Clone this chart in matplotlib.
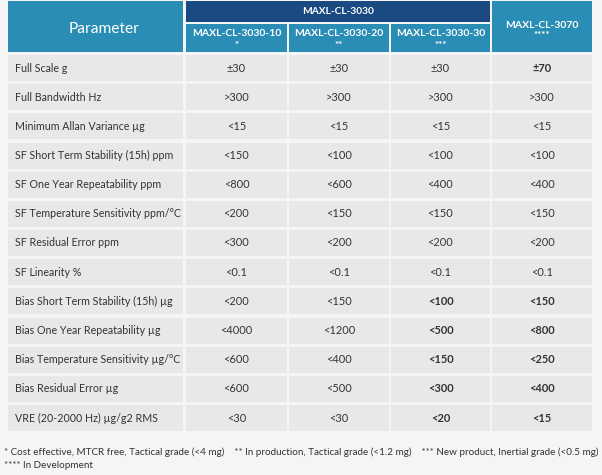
import matplotlib.pyplot as plt
from matplotlib.patches import Rectangle

plt.rcParams['font.family'] = ['Lato', 'DejaVu Sans']

parameters = [
    "Full Scale g",
    "Full Bandwidth Hz",
    "Minimum Allan Variance \u00b5g",
    "SF Short Term Stability (15h) ppm",
    "SF One Year Repeatability ppm",
    "SF Temperature Sensitivity ppm/\u00b0C",
    "SF Residual Error ppm",
    "SF Linearity %",
    "Bias Short Term Stability (15h) \u00b5g",
    "Bias One Year Repeatability \u00b5g",
    "Bias Temperature Sensitivity \u00b5g/\u00b0C",
    "Bias Residual Error \u00b5g",
    "VRE (20-2000 Hz) \u00b5g/g2 RMS",
]
models = ["MAXL-CL-3030-10", "MAXL-CL-3030-20", "MAXL-CL-3030-30", "MAXL-CL-3070"]
stars = ["*", "**", "***", "****"]
group_name = "MAXL-CL-3030"

col_3030_10 = ["\u00b130", ">300", "<15", "<150", "<800", "<200", "<300", "<0.1",
               "<200", "<4000", "<600", "<600", "<30"]
col_3030_20 = ["\u00b130", ">300", "<15", "<100", "<600", "<150", "<200", "<0.1",
               "<150", "<1200", "<400", "<500", "<30"]
col_3030_30 = ["\u00b130", ">300", "<15", "<100", "<400", "<150", "<200", "<0.1",
               "<100", "<500", "<150", "<300", "<20"]
col_3070 = ["\u00b170", ">300", "<15", "<100", "<400", "<150", "<200", "<0.1",
            "<150", "<800", "<250", "<400", "<15"]
columns = [col_3030_10, col_3030_20, col_3030_30, col_3070]

# (row, col) cells printed in bold
bold_cells = {(0, 3)} | {(r, c) for r in range(8, 13) for c in (2, 3)}

footnote1 = ("* Cost effective, MTCR free, Tactical grade (<4 mg)    "
             "** In production, Tactical grade (<1.2 mg)    "
             "*** New product, Inertial grade (<0.5 mg)")
footnote2 = "**** In Development"

teal = '#2a8db5'
navy = '#1b4a82'
cell_bg = '#e8e8e8'
text_c = '#333333'

W, H = 602, 475
fig = plt.figure(figsize=(W / 100, H / 100), dpi=100)
fig.patch.set_facecolor('#f5f5f5')
ax = fig.add_axes([0, 0, 1, 1])
ax.set_xlim(0, W)
ax.set_ylim(H, 0)
ax.axis('off')

col_x = [(8, 183), (186, 287), (289, 389), (391, 490), (492, 592)]


def cell(x0, x1, y0, y1, color):
    ax.add_patch(Rectangle((x0, y0), x1 - x0, y1 - y0, facecolor=color, edgecolor='none'))


# header
cell(col_x[0][0], col_x[0][1], 1, 52, teal)
ax.text(104, 29, "Parameter", color='white',
        fontsize=11.2, ha='center', va='center')
cell(col_x[1][0], col_x[3][1], 1, 22, navy)
ax.text((col_x[1][0] + col_x[3][1]) / 2, 12, group_name, color='white',
        fontsize=7.3, fontweight='bold', ha='center', va='center')
for j, (name, st) in enumerate(zip(models, stars)):
    x0, x1 = col_x[j + 1]
    xc = (x0 + x1) / 2
    if j < 3:
        cell(x0, x1, 24, 52, teal)
        ax.text(xc, 33, name, color='white', fontsize=7.5, fontweight='bold',
                ha='center', va='center')
        ax.text(xc, 45, st, color='white', fontsize=7, fontweight='bold',
                ha='center', va='center')
    else:
        cell(x0, x1, 1, 52, teal)
        ax.text(xc, 25, name, color='white', fontsize=7.5, fontweight='bold',
                ha='center', va='center')
        ax.text(xc, 36, st, color='white', fontsize=7, fontweight='bold',
                ha='center', va='center')

# body
pitch = 350 / 12
for i, p in enumerate(parameters):
    y0 = 55 + pitch * i
    y1 = y0 + 26
    yc = (y0 + y1) / 2
    for x0, x1 in col_x:
        cell(x0, x1, y0, y1, cell_bg)
    ax.text(15, yc, p, color=text_c, fontsize=7.7, ha='left', va='center')
    for j, col in enumerate(columns):
        x0, x1 = col_x[j + 1]
        ax.text((x0 + x1) / 2, yc, col[i], color=text_c, fontsize=7.9,
                fontweight='bold' if (i, j) in bold_cells else 'normal',
                ha='center', va='center')

ax.text(4, 452, footnote1, color=text_c, fontsize=7.1, ha='left', va='center')
ax.text(4, 466, footnote2, color=text_c, fontsize=7.1, ha='left', va='center')

fig.savefig('out.png', dpi=100, facecolor=fig.get_facecolor())
